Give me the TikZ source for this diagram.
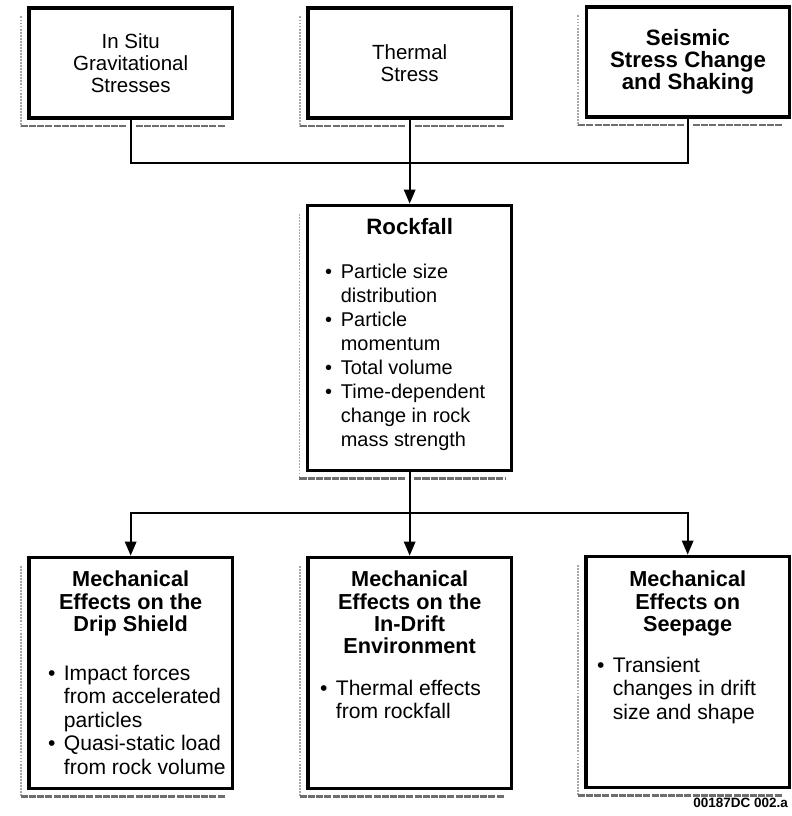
\documentclass[tikz,border=0pt]{standalone}
\usepackage{fontspec}
\setmainfont{Liberation Sans}
\usetikzlibrary{arrows.meta, positioning, calc, backgrounds}
\definecolor{shadegray}{RGB}{110,110,110}
\newcommand{\itm}{\makebox[0.47cm][l]{\textbullet}}
\newcommand{\cnt}{\hspace*{0.47cm}}

\begin{document}
\begin{tikzpicture}[
    box/.style={draw, line width=2.6pt, fill=white, minimum width=6.1cm, align=center},
    cause/.style={box, minimum height=3.3cm, font=\fontsize{17.5}{19}\selectfont},
    effect/.style={box, minimum height=6.93cm},
    ttl/.style={inner sep=0pt, align=center, font=\bfseries\fontsize{18.5}{19}\selectfont},
    blist/.style={inner sep=0pt, align=left, anchor=north west, font=\fontsize{18}{20}\selectfont},
    link/.style={line width=1.8pt},
    flow/.style={line width=1.8pt, -{Triangle[width=0.34cm, length=0.42cm]}},
    shadeL/.style={draw=shadegray!60, line width=1.6pt, densely dotted},
    shadeB/.style={draw=shadegray, line width=2pt, dash pattern=on 6pt off 1pt},
    gap/.style={draw=white, line width=7pt}
]
    \useasboundingbox (0,0) rectangle (23.76,-24.48);

    % Causes
    \node[cause] (situ) at (3.92,-1.89) {In Situ\\Gravitational\\Stresses};
    \node[cause] (thermal) at (12.29,-1.89) {Thermal\\Stress};
    \node[cause, font=\bfseries\fontsize{19}{19}\selectfont] (seismic) at (20.64,-1.86) {Seismic\\Stress Change\\and Shaking};

    % Rockfall
    \node[box, minimum width=6.12cm, minimum height=7.95cm] (rockfall) at (12.29,-10.13) {};
    \node[ttl, anchor=north, font=\bfseries\fontsize{19}{20}\selectfont] (rockT) at (12.29,-6.54) {Rockfall};
    \node[blist, font=\fontsize{17}{20.5}\selectfont] (rockL) at (9.75,-7.92) {\itm Particle size\\\cnt distribution\\\itm Particle\\\cnt momentum\\\itm Total volume\\\itm Time-dependent\\\cnt change in rock\\\cnt mass strength};

    % Effects
    \node[effect] (drip) at (3.92,-20.18) {};
    \node[effect] (drift) at (12.29,-20.18) {};
    \node[effect] (seep) at (20.63,-20.15) {};
    \node[ttl, anchor=north] (dripT) at (3.92,-17.13) {Mechanical\\Effects on the\\Drip Shield};
    \node[ttl, anchor=north] (driftT) at (12.29,-17.13) {Mechanical\\Effects on the\\In-Drift\\Environment};
    \node[ttl, anchor=north] (seepT) at (20.63,-17.13) {Mechanical\\Effects on\\Seepage};
    \node[blist] (dripL) at (1.44,-19.95) {\itm Impact forces\\\cnt from accelerated\\\cnt particles\\\itm Quasi-static load\\\cnt from rock volume};
    \node[blist] (driftL) at (9.6,-20.40) {\itm Thermal effects\\\cnt from rockfall};
    \node[blist] (seepL) at (17.91,-19.71) {\itm Transient\\\cnt changes in drift\\\cnt size and shape};

    \node[anchor=east, inner sep=0pt, font=\bfseries\fontsize{11.5}{13}\selectfont] (tag) at (23.64,-24.09) {00187DC 002.a};

    % Shadows
    \begin{scope}[on background layer]
        \foreach \b in {situ,thermal,seismic,rockfall,drip,drift,seep} {
            \draw[shadeL] ($(\b.north west)+(-0.2,-0.3)$) -- ($(\b.south west)+(-0.2,-0.2)$);
            \draw[shadeB] ($(\b.south west)+(-0.2,-0.2)$) -- ($(\b.south east)+(-0.25,-0.2)$);
        }
        \foreach \b in {situ,thermal,seismic,rockfall}
            \draw[gap] (\b.south) -- ++(0,-0.4);
    \end{scope}

    % Connections
    \coordinate (jtop) at (12.29,-4.89);
    \coordinate (jbot) at (12.29,-15.39);
    \draw[link] (situ.south) |- (jtop) -| (seismic.south);
    \draw[flow] (thermal.south) -- (rockfall.north);
    \draw[link] (rockfall.south) -- (jbot);
    \draw[flow] (jbot) -| (drip.north);
    \draw[flow] (jbot) -- (drift.north);
    \draw[flow] (jbot) -| (seep.north);
\end{tikzpicture}
\end{document}
